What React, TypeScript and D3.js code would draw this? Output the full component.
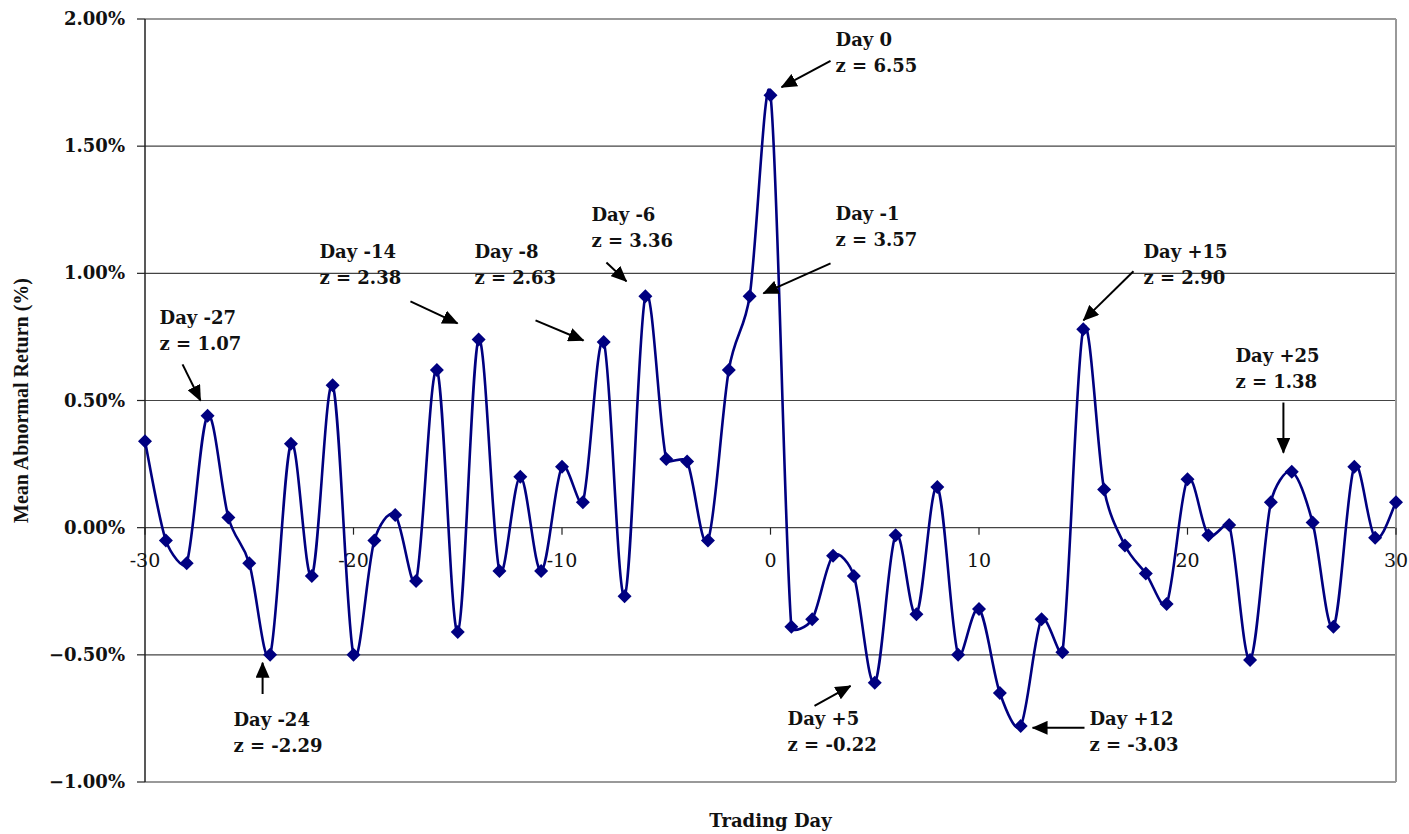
import React from "react";
import * as d3 from "d3";

const days: number[] = d3.range(-30, 31);
const meanAR: number[] = [
  0.34, -0.05, -0.14, 0.44, 0.04, -0.14, -0.5, 0.33, -0.19, 0.56,
  -0.5, -0.05, 0.05, -0.21, 0.62, -0.41, 0.74, -0.17, 0.2, -0.17,
  0.24, 0.1, 0.73, -0.27, 0.91, 0.27, 0.26, -0.05, 0.62, 0.91,
  1.7,
  -0.39, -0.36, -0.11, -0.19, -0.61, -0.03, -0.34, 0.16, -0.5, -0.32,
  -0.65, -0.78, -0.36, -0.49, 0.78, 0.15, -0.07, -0.18, -0.3, 0.19,
  -0.03, 0.01, -0.52, 0.1, 0.22, 0.02, -0.39, 0.24, -0.04, 0.1,
];
const yTicks: number[] = [-1, -0.5, 0, 0.5, 1, 1.5, 2];
const xTicks: number[] = [-30, -20, -10, 0, 10, 20, 30];

// annotations: label lines, label anchor (day, value), arrow from -> to (day, value)
const annLabels: string[][] = [
  ["Day -27", "z = 1.07"],
  ["Day -24", "z = -2.29"],
  ["Day -14", "z = 2.38"],
  ["Day -8", "z = 2.63"],
  ["Day -6", "z = 3.36"],
  ["Day 0", "z = 6.55"],
  ["Day -1", "z = 3.57"],
  ["Day +15", "z = 2.90"],
  ["Day +25", "z = 1.38"],
  ["Day +5", "z = -0.22"],
  ["Day +12", "z = -3.03"],
];
const annText: [number, number][] = [
  [-29.3, 0.799], [-25.76, -0.78], [-21.63, 1.059], [-14.2, 1.059], [-8.59, 1.205],
  [3.12, 1.894], [3.12, 1.209], [17.89, 1.059], [22.3, 0.65], [0.82, -0.776], [15.3, -0.776],
];
const annFrom: [number, number][] = [
  [-28.2, 0.642], [-24.36, -0.654], [-17.27, 0.89], [-11.27, 0.815], [-7.87, 1.043],
  [2.88, 1.835], [2.88, 1.039], [17.41, 1.008], [24.6, 0.492], [2.11, -0.701], [15.06, -0.787],
];
const annTo: [number, number][] = [
  [-27.34, 0.5], [-24.36, -0.531], [-15.01, 0.803], [-8.97, 0.736], [-6.91, 0.969],
  [0.53, 1.732], [-0.34, 0.921], [15.01, 0.815], [24.6, 0.295], [3.84, -0.622], [12.57, -0.787],
];

const W = 1409;
const H = 834;
const left = 145, right = 1396, top = 19, bottom = 782;
const font = "'DejaVu Serif', serif";

// Excel-like smoothed line: Bezier with tangents (P[i+1]-P[i-1])/6, scaled down on short segments
function smoothPath(p: [number, number][]): string {
  const path = d3.path();
  const n = p.length;
  const dist = (a: [number, number], b: [number, number]) => Math.hypot(b[0] - a[0], b[1] - a[1]);
  const tan = (i: number): [number, number] => {
    const a = p[Math.max(0, i - 1)];
    const b = p[Math.min(n - 1, i + 1)];
    return [(b[0] - a[0]) / 6, (b[1] - a[1]) / 6];
  };
  path.moveTo(p[0][0], p[0][1]);
  for (let i = 0; i < n - 1; i++) {
    const seg = dist(p[i], p[i + 1]);
    const prev = i > 0 ? dist(p[i - 1], p[i]) : seg;
    const next = i + 2 < n ? dist(p[i + 1], p[i + 2]) : seg;
    const s1 = Math.min(1, (2 * seg) / prev);
    const s2 = Math.min(1, (2 * seg) / next);
    const t1 = tan(i);
    const t2 = tan(i + 1);
    path.bezierCurveTo(
      p[i][0] + t1[0] * s1, p[i][1] + t1[1] * s1,
      p[i + 1][0] - t2[0] * s2, p[i + 1][1] - t2[1] * s2,
      p[i + 1][0], p[i + 1][1]
    );
  }
  return path.toString();
}

export default function App() {
  const x = d3.scaleLinear().domain([-30, 30]).range([left, right]);
  const y = d3.scaleLinear().domain([-1, 2]).range([bottom, top]);
  const pts: [number, number][] = days.map((d, i) => [x(d), y(meanAR[i])]);
  const line = smoothPath(pts);
  const y0 = y(0);
  const diamond = "M0,-7L7,0L0,7L-7,0Z";

  return (
    <svg width={W} height={H} style={{ position: "absolute", left: 0, top: 0, background: "#fff" }}>
      <defs>
        <marker id="ah" markerUnits="userSpaceOnUse" markerWidth="16" markerHeight="14" refX="15" refY="7" orient="auto">
          <path d="M0,0L16,7L0,14Z" fill="#000" />
        </marker>
      </defs>
      <rect x={0} y={0} width={W} height={H} fill="#fff" />
      {/* gridlines */}
      {yTicks.filter((t) => t > -1 && t < 2).map((t) => (
        <line key={"g" + t} x1={left} x2={right} y1={y(t)} y2={y(t)} stroke="#444" strokeWidth={1.2} />
      ))}
      {/* plot border */}
      <line x1={left} x2={right} y1={top} y2={top} stroke="#999" strokeWidth={2} />
      <line x1={left} x2={right} y1={bottom} y2={bottom} stroke="#999" strokeWidth={2} />
      <line x1={right} x2={right} y1={top} y2={bottom} stroke="#999" strokeWidth={2} />
      {/* y axis */}
      <line x1={left} x2={left} y1={top} y2={bottom} stroke="#222" strokeWidth={1.5} />
      {yTicks.map((t) => (
        <g key={"yt" + t}>
          <line x1={left - 8} x2={left} y1={y(t)} y2={y(t)} stroke="#222" strokeWidth={1.2} />
          <text x={left - 20} y={y(t) + 6} textAnchor="end" fontFamily={font} fontWeight="bold" fontSize={18} fill="#111">
            {d3.format(".2f")(t) + "%"}
          </text>
        </g>
      ))}
      {/* x axis at zero */}
      {xTicks.map((t) => (
        <g key={"xt" + t}>
          <line x1={x(t)} x2={x(t)} y1={y0} y2={y0 + 7} stroke="#222" strokeWidth={1.2} />
          <text x={x(t)} y={y0 + 39} textAnchor="middle" fontFamily={font} fontSize={19} fill="#111">
            {String(t)}
          </text>
        </g>
      ))}
      {/* series */}
      <path d={line} fill="none" stroke="#000080" strokeWidth={2.6} />
      {pts.map((p, i) => (
        <path key={"m" + i} d={diamond} transform={`translate(${p[0]},${p[1]})`} fill="#000080" />
      ))}
      {/* annotations */}
      {annLabels.map((lines, i) => (
        <g key={"a" + i}>
          <line
            x1={x(annFrom[i][0])} y1={y(annFrom[i][1])}
            x2={x(annTo[i][0])} y2={y(annTo[i][1])}
            stroke="#000" strokeWidth={2} markerEnd="url(#ah)"
          />
          {lines.map((s, j) => (
            <text key={j} x={x(annText[i][0])} y={y(annText[i][1]) + j * 26} fontFamily={font} fontWeight="bold" fontSize={18} fill="#111">
              {s}
            </text>
          ))}
        </g>
      ))}
      {/* axis titles */}
      <text transform={`translate(28,${(top + bottom) / 2}) rotate(-90)`} textAnchor="middle" fontFamily="'Liberation Serif', serif" fontWeight="bold" fontSize={20} fill="#111">
        Mean Abnormal Return (%)
      </text>
      <text x={(left + right) / 2} y={827} textAnchor="middle" fontFamily={font} fontWeight="bold" fontSize={18} fill="#111">
        Trading Day
      </text>
    </svg>
  );
}
